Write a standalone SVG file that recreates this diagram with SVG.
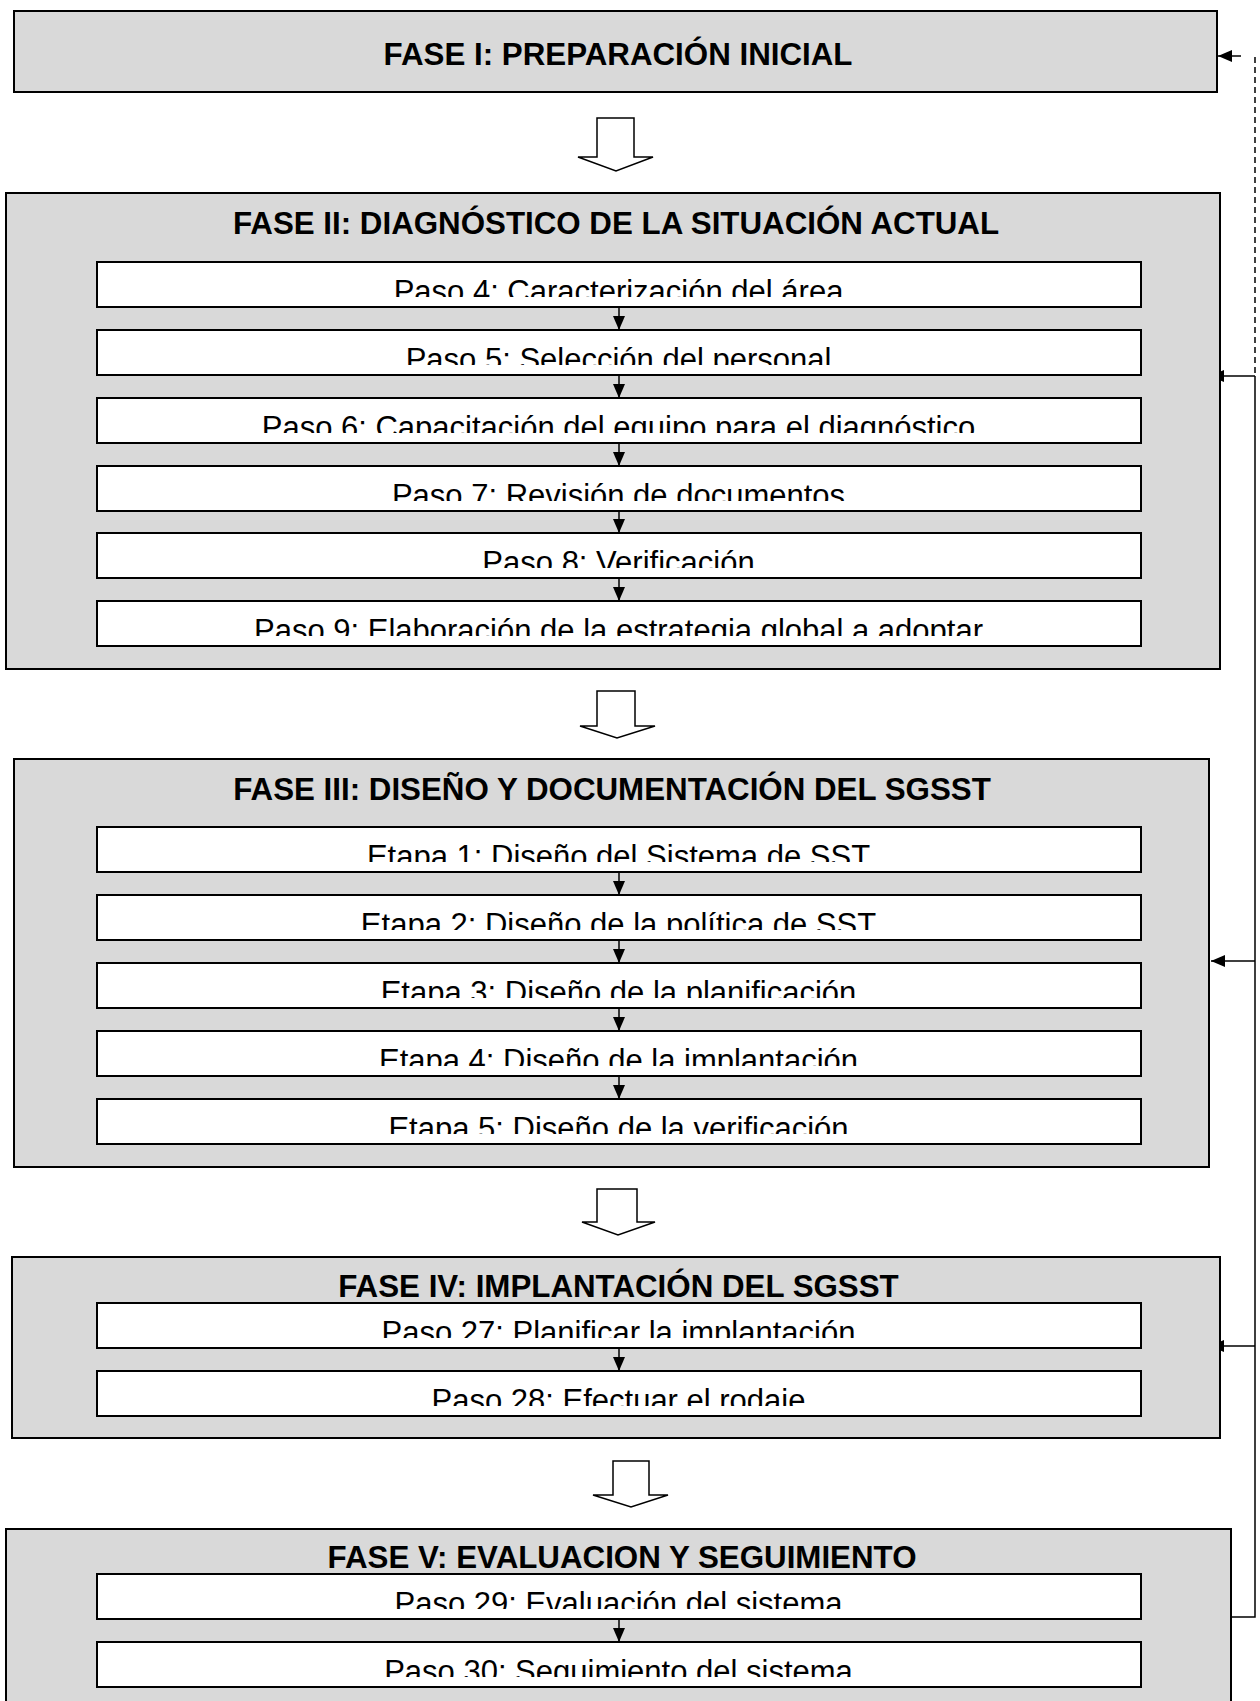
<svg xmlns="http://www.w3.org/2000/svg" width="1260" height="1701" viewBox="0 0 1260 1701">
  <defs>
    <style>
      .phase{fill:#d9d9d9;stroke:#000;stroke-width:2}
      .step{fill:#fff;stroke:#000;stroke-width:2}
      .title{font-family:"Liberation Sans",Arial,Helvetica,sans-serif;font-weight:bold;font-size:31.3px;text-anchor:middle;fill:#000}
      .label{font-family:"Liberation Sans",Arial,Helvetica,sans-serif;font-size:31px;text-anchor:middle;fill:#000}
      .flow{fill:#fff;stroke:#000;stroke-width:1.5;stroke-linejoin:miter}
      .link{fill:none;stroke:#000;stroke-width:1.5}
      .dash{stroke-dasharray:6 4}
    </style>
    <marker id="head" markerUnits="userSpaceOnUse" markerWidth="14" markerHeight="12" viewBox="0 0 14 12" refX="14" refY="6" orient="auto">
      <path d="M0,0 L14,6 L0,12 z" fill="#000"/>
    </marker>
    <!-- feedback arrowheads that tuck under the phase border -->
    <clipPath id="past-edge"><rect x="1221" y="0" width="39" height="1701"/></clipPath>
  </defs>

  <rect width="1260" height="1701" fill="#fff"/>

  <!-- FASE I -->
  <g id="fase1">
    <rect class="phase" x="14" y="11" width="1203" height="81"/>
    <text class="title" x="618" y="65">FASE I: PREPARACIÓN INICIAL</text>
  </g>

  <!-- block arrows between phases -->
  <g id="phase-arrows">
    <path class="flow" d="M597,118 H634 V157 H653 L616,171 L578,157 H597 Z"/>
    <path class="flow" d="M597,691 H635 V726 H655 L617,738 L580,726 H597 Z"/>
    <path class="flow" d="M597,1189 H637 V1222 H655 L618,1235 L582,1222 H597 Z"/>
    <path class="flow" d="M613,1461 H649 V1495 H668 L631,1507 L593,1495 H613 Z"/>
  </g>

  <!-- FASE II -->
  <g id="fase2">
    <rect class="phase" x="6" y="193" width="1214" height="476"/>
    <text class="title" x="616" y="234">FASE II: DIAGNÓSTICO DE LA SITUACIÓN ACTUAL</text>
    <g id="paso4"><rect class="step" x="97" y="262" width="1044" height="45"/>
      <svg x="97" y="262" width="1044" height="35"><text class="label" x="521.5" y="40">Paso 4: Caracterización del área</text></svg></g>
    <g id="paso5"><rect class="step" x="97" y="330" width="1044" height="45"/>
      <svg x="97" y="330" width="1044" height="35"><text class="label" x="521.5" y="40">Paso 5: Selección del personal</text></svg></g>
    <g id="paso6"><rect class="step" x="97" y="398" width="1044" height="45"/>
      <svg x="97" y="398" width="1044" height="35"><text class="label" x="521.5" y="40">Paso 6: Capacitación del equipo para el diagnóstico</text></svg></g>
    <g id="paso7"><rect class="step" x="97" y="466" width="1044" height="45"/>
      <svg x="97" y="466" width="1044" height="35"><text class="label" x="521.5" y="40">Paso 7: Revisión de documentos</text></svg></g>
    <g id="paso8"><rect class="step" x="97" y="533" width="1044" height="45"/>
      <svg x="97" y="533" width="1044" height="35"><text class="label" x="521.5" y="40">Paso 8: Verificación</text></svg></g>
    <g id="paso9"><rect class="step" x="97" y="601" width="1044" height="45"/>
      <svg x="97" y="601" width="1044" height="35"><text class="label" x="521.5" y="40">Paso 9: Elaboración de la estrategia global a adoptar</text></svg></g>
  </g>

  <!-- FASE III -->
  <g id="fase3">
    <rect class="phase" x="14" y="759" width="1195" height="408"/>
    <text class="title" x="612" y="800">FASE III: DISEÑO Y DOCUMENTACIÓN DEL SGSST</text>
    <g id="etapa1"><rect class="step" x="97" y="827" width="1044" height="45"/>
      <svg x="97" y="827" width="1044" height="35"><text class="label" x="521.5" y="40">Etapa 1: Diseño del Sistema de SST</text></svg></g>
    <g id="etapa2"><rect class="step" x="97" y="895" width="1044" height="45"/>
      <svg x="97" y="895" width="1044" height="35"><text class="label" x="521.5" y="40">Etapa 2: Diseño de la política de SST</text></svg></g>
    <g id="etapa3"><rect class="step" x="97" y="963" width="1044" height="45"/>
      <svg x="97" y="963" width="1044" height="35"><text class="label" x="521.5" y="40">Etapa 3: Diseño de la planificación</text></svg></g>
    <g id="etapa4"><rect class="step" x="97" y="1031" width="1044" height="45"/>
      <svg x="97" y="1031" width="1044" height="35"><text class="label" x="521.5" y="40">Etapa 4: Diseño de la implantación</text></svg></g>
    <g id="etapa5"><rect class="step" x="97" y="1099" width="1044" height="45"/>
      <svg x="97" y="1099" width="1044" height="35"><text class="label" x="521.5" y="40">Etapa 5: Diseño de la verificación</text></svg></g>
  </g>

  <!-- FASE IV -->
  <g id="fase4">
    <rect class="phase" x="12" y="1257" width="1208" height="181"/>
    <text class="title" x="618.5" y="1297">FASE IV: IMPLANTACIÓN DEL SGSST</text>
    <g id="paso27"><rect class="step" x="97" y="1303" width="1044" height="45"/>
      <svg x="97" y="1303" width="1044" height="35"><text class="label" x="521.5" y="40">Paso 27: Planificar la implantación</text></svg></g>
    <g id="paso28"><rect class="step" x="97" y="1371" width="1044" height="45"/>
      <svg x="97" y="1371" width="1044" height="35"><text class="label" x="521.5" y="40">Paso 28: Efectuar el rodaje</text></svg></g>
  </g>

  <!-- FASE V -->
  <g id="fase5">
    <rect class="phase" x="6" y="1529" width="1225" height="200"/>
    <text class="title" x="622" y="1568">FASE V: EVALUACION Y SEGUIMIENTO</text>
    <g id="paso29"><rect class="step" x="97" y="1574" width="1044" height="45"/>
      <svg x="97" y="1574" width="1044" height="35"><text class="label" x="521.5" y="40">Paso 29: Evaluación del sistema</text></svg></g>
    <g id="paso30"><rect class="step" x="97" y="1642" width="1044" height="45"/>
      <svg x="97" y="1642" width="1044" height="35"><text class="label" x="521.5" y="40">Paso 30: Seguimiento del sistema</text></svg></g>
  </g>

  <!-- connectors -->
  <g id="connectors">
    <!-- step to step -->
    <line class="link" x1="619" y1="307" x2="619" y2="330" marker-end="url(#head)"/>
    <line class="link" x1="619" y1="375" x2="619" y2="398" marker-end="url(#head)"/>
    <line class="link" x1="619" y1="443" x2="619" y2="466" marker-end="url(#head)"/>
    <line class="link" x1="619" y1="511" x2="619" y2="533" marker-end="url(#head)"/>
    <line class="link" x1="619" y1="578" x2="619" y2="601" marker-end="url(#head)"/>
    <line class="link" x1="619" y1="872" x2="619" y2="895" marker-end="url(#head)"/>
    <line class="link" x1="619" y1="940" x2="619" y2="963" marker-end="url(#head)"/>
    <line class="link" x1="619" y1="1008" x2="619" y2="1031" marker-end="url(#head)"/>
    <line class="link" x1="619" y1="1076" x2="619" y2="1099" marker-end="url(#head)"/>
    <line class="link" x1="619" y1="1348" x2="619" y2="1371" marker-end="url(#head)"/>
    <line class="link" x1="619" y1="1619" x2="619" y2="1642" marker-end="url(#head)"/>
    <!-- feedback loop on the right -->
    <path class="link" d="M1231,1617 H1255 V376"/>
    <line class="link dash" x1="1255" y1="57" x2="1255" y2="376"/>
    <line class="link" x1="1241" y1="56" x2="1218" y2="56" marker-end="url(#head)"/>
    <g clip-path="url(#past-edge)">
      <line class="link" x1="1255" y1="376" x2="1210" y2="376" marker-end="url(#head)"/>
      <line class="link" x1="1255" y1="1346" x2="1210" y2="1346" marker-end="url(#head)"/>
    </g>
    <line class="link" x1="1255" y1="961" x2="1211" y2="961" marker-end="url(#head)"/>
  </g>
</svg>
